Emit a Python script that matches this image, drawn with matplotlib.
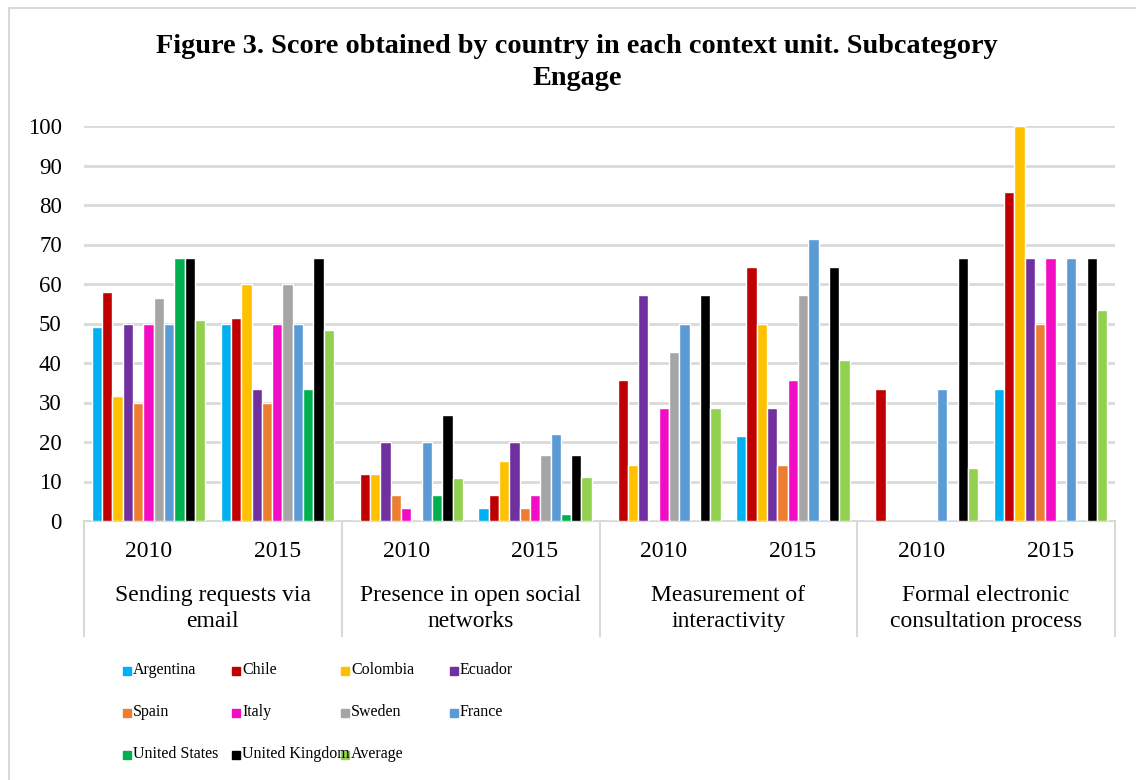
import matplotlib
matplotlib.use("Agg")
import matplotlib.pyplot as plt
import numpy as np
from matplotlib.patches import Rectangle

plt.rcParams['font.family'] = ['Liberation Serif', 'DejaVu Serif']

# context units and the two years measured in each
units = ["Sending requests via\nemail", "Presence in open social\nnetworks",
         "Measurement of\ninteractivity", "Formal electronic\nconsultation process"]
years = ["2010", "2015"]

# scores per country, one value per unit/year slot
argentina = [49, 50, 0, 3.4, 0, 21.4, 0, 33.3]
chile = [58, 51.5, 11.8, 6.6, 35.7, 64.3, 33.3, 83.3]
colombia = [31.6, 60, 11.8, 15.1, 14.3, 50, 0, 100]
ecuador = [50, 33.3, 20, 20, 57.1, 28.6, 0, 66.7]
spain = [30, 30, 6.6, 3.4, 0, 14.3, 0, 50]
italy = [50, 50, 3.4, 6.6, 28.6, 35.7, 0, 66.7]
sweden = [56.4, 60, 0, 16.7, 42.9, 57.1, 0, 0]
france = [50, 50, 20, 21.9, 50, 71.4, 33.3, 66.7]
united_states = [66.7, 33.3, 6.6, 1.8, 0, 0, 0, 0]
united_kingdom = [66.7, 66.7, 26.9, 16.7, 57.1, 64.3, 66.7, 66.7]
average = [50.8, 48.3, 10.8, 11.2, 28.6, 40.7, 13.3, 53.3]

names = ["Argentina", "Chile", "Colombia", "Ecuador", "Spain", "Italy",
         "Sweden", "France", "United States", "United Kingdom", "Average"]
series = [argentina, chile, colombia, ecuador, spain, italy, sweden,
          france, united_states, united_kingdom, average]
colors = ["#00B0F0", "#C00000", "#FFC000", "#7030A0", "#ED7D31", "#F20DC4",
          "#A5A5A5", "#5B9BD5", "#00B050", "#000000", "#92D050"]

fig = plt.figure(figsize=(11.36, 7.80), dpi=100)
ax = fig.add_axes([84 / 1136, 1 - 521 / 780, (1115 - 84) / 1136, (521 - 126) / 780])

n = len(series)
bw = 0.08
x = np.arange(len(units) * len(years))
for i, (vals, col, name) in enumerate(zip(series, colors, names)):
    ax.bar(x + (i - (n - 1) / 2) * bw, vals, width=bw, color=col,
           edgecolor="white", linewidth=1.0, label=name, zorder=3)

ax.set_xlim(-0.5, len(x) - 0.5)
ax.set_ylim(0, 100)
ax.set_yticks(np.arange(0, 101, 10))
ax.tick_params(axis="y", length=0, pad=16, labelsize=16.5)
ax.set_xticks([])
ax.grid(axis="y", color="#D9D9D9", linewidth=2, zorder=0)
for s in ["top", "right", "left"]:
    ax.spines[s].set_visible(False)
ax.spines["bottom"].set_color("#D9D9D9")
ax.spines["bottom"].set_linewidth(1.5)

# two-level category axis
tr = ax.get_xaxis_transform()
for k, xv in enumerate(x):
    ax.text(xv, -0.076, years[k % 2], transform=tr, ha="center", va="center",
            fontsize=17)
for j, u in enumerate(units):
    ax.text(2 * j + 0.5, -0.222, u, transform=tr, ha="center", va="center",
            fontsize=17, linespacing=1.35)
for b in np.arange(len(units) + 1) * 2 - 0.5:
    ax.plot([b, b], [0, -0.29], transform=tr, color="#D9D9D9", lw=1.5,
            clip_on=False)

fig.text(0.508, 0.940, "Figure 3. Score obtained by country in each context unit. Subcategory",
         ha="center", va="center", fontsize=20.3, fontweight="bold")
fig.text(0.508, 0.899, "Engage", ha="center", va="center", fontsize=20.3,
         fontweight="bold")

# legend laid out row by row, four per row
for i, (name, col) in enumerate(zip(names, colors)):
    r, c = divmod(i, 4)
    px = 123 + c * 109
    py = 671 + r * 42
    fig.patches.append(Rectangle((px / 1136, 1 - (py + 4) / 780), 8 / 1136, 8 / 780,
                                 transform=fig.transFigure, color=col))
    fig.text((px + 10) / 1136, 1 - (py - 1) / 780, name, ha="left", va="center",
             fontsize=11.5)

# outer chart frame
fig.patches.append(Rectangle((9 / 1136, -0.1), 1.2, 1.1 - 8 / 780,
                             transform=fig.transFigure, fill=False,
                             edgecolor="#D9D9D9", linewidth=1.5))

fig.savefig("out.png", dpi=100)
